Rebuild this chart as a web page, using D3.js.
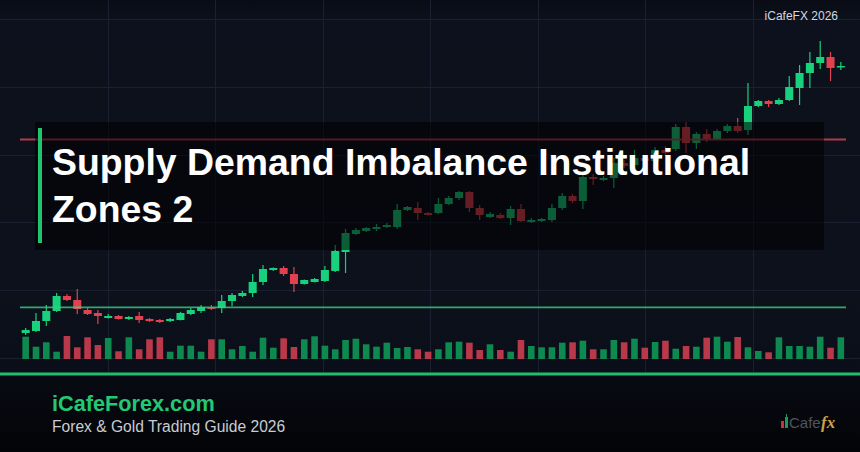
<!DOCTYPE html>
<html><head><meta charset="utf-8">
<script src="https://cdn.jsdelivr.net/npm/d3@7"></script>
<style>html,body{margin:0;padding:0;background:#0b0f1a;}svg{display:block}</style>
</head><body><svg id="c" width="860" height="452"></svg>
<script>
// ---- data ----
const opens  = [2333.5,2334.5,2339.5,2344.5,2352,2350,2345,2343.5,2341,2342,2340.5,2342,2340.5,2340,2339.5,2340,2343,2344.5,2346.3,2346,
                2349.5,2352,2353.5,2359,2365,2366,2363,2358,2359,2359.5,2364.5,2374,2383,2384.5,2385.5,2386.5,2386.5,2395,2396,2393.5,
                2393.5,2398,2401,2404,2396,2391.5,2392.5,2391,2395.5,2389,2389.5,2390,2396,2402,2399.5,2411.5,2410,2411,2418.5,2417.5,
                2421,2419.5,2425,2425.5,2436.5,2428.5,2433,2430.5,2434.5,2437,2435,2447,2449.5,2448,2450,2456,2463.5,2468.5,2471.5,2466.3];
const closes = [2335,2339.5,2344.5,2352,2350,2345.5,2343,2342,2342,2340.5,2341.5,2340,2339.5,2339,2340.5,2343.5,2345,2346.5,2345.8,2349.5,
                2352.5,2353.5,2359,2365.5,2366,2363,2358,2360,2360.5,2365,2374.5,2383.5,2385,2386,2386.5,2387.5,2395,2396.5,2393.5,2392.5,
                2398,2401,2404,2396,2392.5,2393,2391,2395.5,2389.5,2390,2390.5,2396,2402,2399.5,2411.5,2410.5,2411,2418.5,2417,2421,
                2419.5,2425,2423.5,2436.5,2428.5,2433,2430.5,2434.5,2437,2434.5,2447,2449.5,2448,2450,2456.5,2463.5,2468.5,2471.5,2466,2467];
const highs  = [2336,2343.5,2347.5,2353.5,2353,2355.5,2346,2345,2343,2342.5,2342,2344,2341,2340.5,2341,2344,2346,2347.5,2347.5,2352.5,
                2353.5,2354.5,2363,2367.5,2366.3,2367,2366.5,2360.3,2361,2367,2377.5,2385.5,2386,2386.5,2388,2388.5,2398,2397,2399,2394,
                2401,2402,2404.5,2404.5,2397.5,2394,2393.5,2397,2398,2391,2391,2398,2403.5,2403,2414,2413,2412,2421,2420,2425,
                2422.5,2426.5,2427,2438,2439,2434,2435.5,2435.5,2438,2441,2458.5,2450,2450,2451,2462,2467.5,2474,2479.5,2474,2469];
const lows   = [2332.5,2334,2337,2344,2349.5,2343,2342.5,2338,2340.8,2340.3,2340,2338.5,2339,2338.5,2339,2339.8,2342.5,2343.5,2345,2343.5,
                2347,2351.5,2351.5,2357.5,2364.5,2362,2354,2357.8,2358.8,2359,2364,2363.5,2382.5,2384,2384.5,2386,2385.5,2394.5,2390,2392.3,
                2393,2397.5,2400,2394,2390,2391,2390.5,2387.5,2389,2388.5,2389,2389,2395,2398.5,2395.5,2407.5,2409.5,2406,2416,2416.5,
                2418,2415,2422,2424.5,2423.5,2425.5,2429,2430,2433.5,2433.5,2432.5,2446.5,2446.5,2447.5,2449.5,2447.5,2456,2465.5,2459.5,2465];
const volumes = [2230,1230,1670,730,2300,1170,2170,1400,2100,770,2170,970,1970,2170,730,1330,1330,730,1970,1970,
                 970,1300,730,2130,1130,2070,1200,1970,2270,1330,970,1900,2030,1470,1230,1630,1100,1200,970,730,
                 970,1670,1730,1630,900,1470,900,730,1900,1300,1170,1170,1630,1670,1830,970,970,1900,1670,2030,
                 1130,1700,1830,1030,1300,1230,2130,2230,1730,2200,1170,800,670,2170,1300,1300,1230,2230,1130,2170];
const supplyLevel = 2430.3;
const demandLevel = 2346.3;
const titleLines = ["Supply Demand Imbalance Institutional", "Zones 2"];
const brandText = "iCafeForex.com";
const subText = "Forex & Gold Trading Guide 2026";
const cornerText = "iCafeFX 2026";

// ---- drawing ----
const W = 860, H = 452;
const svg = d3.select("#c");
const defs = svg.append("defs");
const bg = defs.append("linearGradient").attr("id","bg").attr("x1",0).attr("y1",0).attr("x2",0).attr("y2",1);
bg.append("stop").attr("offset","0").attr("stop-color","#090c15");
bg.append("stop").attr("offset","0.06").attr("stop-color","#0c111d");
bg.append("stop").attr("offset","0.8").attr("stop-color","#0c111c");
bg.append("stop").attr("offset","1").attr("stop-color","#0a0e18");
const fg = defs.append("linearGradient").attr("id","foot").attr("x1",0).attr("y1",0).attr("x2",0).attr("y2",1);
fg.append("stop").attr("offset","0").attr("stop-color","#080b13");
fg.append("stop").attr("offset","1").attr("stop-color","#030407");

svg.append("rect").attr("width",W).attr("height",375).attr("fill","url(#bg)");
svg.append("rect").attr("y",375).attr("width",W).attr("height",H-375).attr("fill","url(#foot)");

const n = opens.length;
const x = d3.scaleBand().domain(d3.range(n)).range([20.5, 846]).paddingInner(0.22).paddingOuter(0.11);
const y = d3.scaleLinear().domain([2321, 2490.5]).range([358, 19]);
const yv = d3.scaleLinear().domain([0, 2500]).range([359, 334]);
const gridX = d3.scaleLinear().domain([0, 8]).range([0, W]);
const gridY = d3.scaleLinear().domain([0, 5]).range([358, 19]);

const grid = svg.append("g").attr("stroke","#1a2030").attr("stroke-width",1);
grid.selectAll("line.v").data(d3.range(1,8)).join("line")
  .attr("x1",d=>Math.round(gridX(d))+0.5).attr("x2",d=>Math.round(gridX(d))+0.5).attr("y1",0).attr("y2",372);
grid.selectAll("line.h").data(d3.range(0,6)).join("line")
  .attr("x1",0).attr("x2",W).attr("y1",d=>Math.round(gridY(d))+0.5).attr("y2",d=>Math.round(gridY(d))+0.5);

const up = i => closes[i] >= opens[i];
const cx = i => x(i) + x.bandwidth()/2;

// volume
const vw = 6.6;
svg.append("g").selectAll("rect").data(d3.range(n)).join("rect")
  .attr("x",i=>cx(i)-vw/2).attr("width",vw)
  .attr("y",i=>yv(volumes[i])).attr("height",i=>yv(0)-yv(volumes[i]))
  .attr("fill",i=>up(i) ? "#0e8a50" : "#b9394a");

// candles
const UP = "#19d07c", DN = "#e2424f";
const cg = svg.append("g");
cg.selectAll("line").data(d3.range(n)).join("line")
  .attr("x1",i=>cx(i)).attr("x2",i=>cx(i))
  .attr("y1",i=>y(highs[i])).attr("y2",i=>y(lows[i]))
  .attr("stroke",i=>up(i)?UP:DN).attr("stroke-width",1.2);
cg.selectAll("rect").data(d3.range(n)).join("rect")
  .attr("x",i=>x(i)).attr("width",x.bandwidth())
  .attr("y",i=>y(Math.max(opens[i],closes[i])))
  .attr("height",i=>Math.max(1.5, Math.abs(y(opens[i])-y(closes[i]))))
  .attr("fill",i=>up(i)?UP:DN);

// zone lines
svg.append("line").attr("x1",20).attr("x2",846).attr("y1",y(supplyLevel)).attr("y2",y(supplyLevel))
  .attr("stroke","#d0444e").attr("stroke-width",2).attr("opacity",0.85);
svg.append("line").attr("x1",20).attr("x2",846).attr("y1",y(demandLevel)).attr("y2",y(demandLevel))
  .attr("stroke","#3ccf80").attr("stroke-width",1.8).attr("opacity",0.8);

// title box
svg.append("rect").attr("x",35).attr("y",122).attr("width",789).attr("height",128)
  .attr("fill","#000").attr("opacity",0.55);
svg.append("rect").attr("x",38).attr("y",128).attr("width",4).attr("height",115).attr("fill","#1ec46e");
const tt = svg.append("g").attr("font-family","'Liberation Sans', Arial, sans-serif")
  .attr("font-weight","bold").attr("font-size",37.4).attr("fill","#ffffff");
tt.selectAll("text").data(titleLines).join("text")
  .attr("x",52).attr("y",(d,i)=>175+i*47).text(d=>d);

// corner label
svg.append("text").attr("x",838).attr("y",20).attr("text-anchor","end")
  .attr("font-family","'Liberation Sans', Arial, sans-serif").attr("font-size",12)
  .attr("fill","#d4d8e0").text(cornerText);

// separator
svg.append("rect").attr("x",0).attr("y",372.5).attr("width",W).attr("height",3).attr("fill","#1fbf6c");

// footer
svg.append("text").attr("x",52).attr("y",411).attr("font-family","'Liberation Sans', Arial, sans-serif")
  .attr("font-weight","bold").attr("font-size",21.7).attr("fill","#22c975").text(brandText);
svg.append("text").attr("x",52).attr("y",432).attr("font-family","'Liberation Sans', Arial, sans-serif")
  .attr("font-size",15.6).attr("fill","#c9ccd2").text(subText);

// logo
const lg = svg.append("g");
lg.append("rect").attr("x",781).attr("y",421).attr("width",3).attr("height",7).attr("fill","#c8343e");
lg.append("line").attr("x1",786.5).attr("x2",786.5).attr("y1",414).attr("y2",417).attr("stroke","#1b9a55");
lg.append("rect").attr("x",785).attr("y",417).attr("width",3).attr("height",11).attr("fill","#1b9a55");
lg.append("text").attr("x",789).attr("y",428).attr("font-family","'Liberation Sans', Arial, sans-serif")
  .attr("font-size",15).attr("font-weight",300).attr("fill","#4f545d").text("Cafe");
lg.append("text").attr("x",821).attr("y",428).attr("font-family","'Liberation Serif', serif")
  .attr("font-style","italic").attr("font-weight","bold").attr("font-size",17).attr("fill","#c9a24a").text("fx");
</script></body></html>
